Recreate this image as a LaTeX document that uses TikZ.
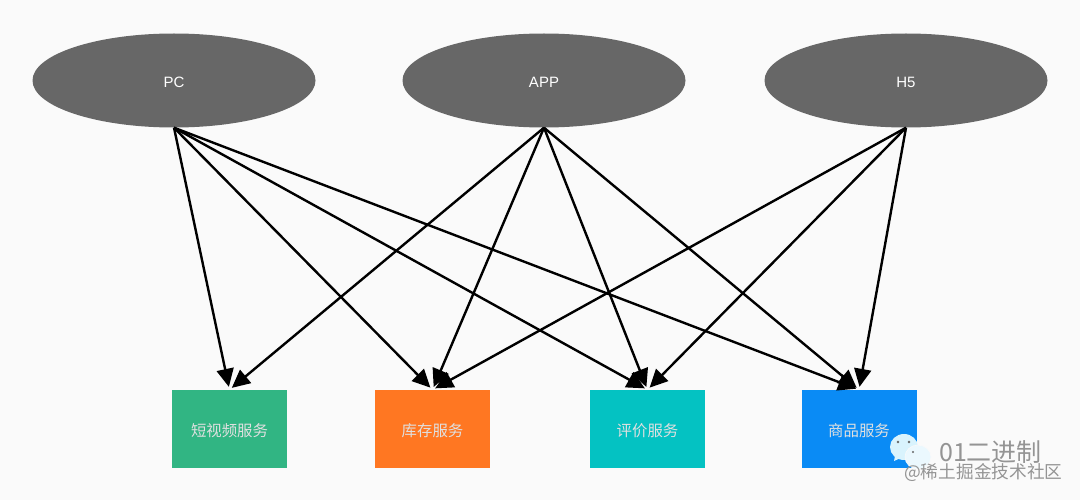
\documentclass[tikz,border=0pt]{standalone}
\usepackage{fontspec}
\setmainfont{Liberation Sans}
\newfontfamily\cjk{Noto Sans CJK SC}
\usetikzlibrary{arrows.meta,shapes.geometric}
\definecolor{bgc}{HTML}{FAFAFA}
\definecolor{ellc}{HTML}{676767}
\definecolor{cgreen}{HTML}{31B583}
\definecolor{corange}{HTML}{FF7722}
\definecolor{cteal}{HTML}{04C2C2}
\definecolor{cblue}{HTML}{0A8BF5}
\tikzset{
  client/.style={ellipse,fill=ellc,draw=none,minimum width=283pt,minimum height=94pt,inner sep=0pt,text=white,text height=14.4pt,text depth=0pt,font=\fontsize{15}{15}\selectfont},
  service/.style={rectangle,draw=none,minimum width=115pt,minimum height=78pt,inner sep=0pt,text=white!88!black,text height=15pt,text depth=0pt,font=\cjk\fontsize{15.4}{15.4}\selectfont},
  link/.style={draw=black,line width=2.4pt,-{Triangle[length=18pt,width=17pt]},shorten >=3pt},
  wmark/.style={draw=none,inner sep=0pt,anchor=west,text=black!42},
}
\begin{document}
\begin{tikzpicture}[x=1pt,y=-1pt]
\fill[bgc] (0,0) rectangle (1080,500);
\useasboundingbox (0,0) rectangle (1080,500);
\node[client] (pc) at (174,80.5) {PC};
\node[client] (app) at (544,80.5) {APP};
\node[client] (h5) at (906,80.5) {H5};
\node[service,fill=cgreen] (s1) at (229.5,429) {短视频服务};
\node[service,fill=corange] (s2) at (432.5,429) {库存服务};
\node[service,fill=cteal] (s3) at (647.5,429) {评价服务};
\node[service,fill=cblue] (s4) at (859,429) {商品服务};
\draw[link] (pc.south) -- (s1.north);
\draw[link] (pc.south) -- (s2.north);
\draw[link] (pc.south) -- (s3.north);
\draw[link] (pc.south) -- (s4.north);
\draw[link] (app.south) -- (s1.north);
\draw[link] (app.south) -- (s2.north);
\draw[link] (app.south) -- (s3.north);
\draw[link] (app.south) -- (s4.north);
\draw[link] (h5.south) -- (s2.north);
\draw[link] (h5.south) -- (s3.north);
\draw[link] (h5.south) -- (s4.north);
% watermark
\fill[white!85!cyan] (904,447) ellipse (14pt and 13pt);
\fill[white!85!cyan] (895,456) -- (894,461) -- (903,457) -- cycle;
\fill[white!92!cyan,draw=bgc,line width=.6pt] (918,457) ellipse (13pt and 12pt);
\fill[black!60] (898,442) circle (1.3pt) (909,442) circle (1.3pt) (913,452) circle (1.2pt);
\node[wmark,font=\cjk\fontsize{25}{25}\selectfont] (w1) at (939,452) {01二进制};
\node[wmark,font=\cjk\fontsize{17.7}{18}\selectfont] (w2) at (904,473) {@稀土掘金技术社区};
\end{tikzpicture}
\end{document}
